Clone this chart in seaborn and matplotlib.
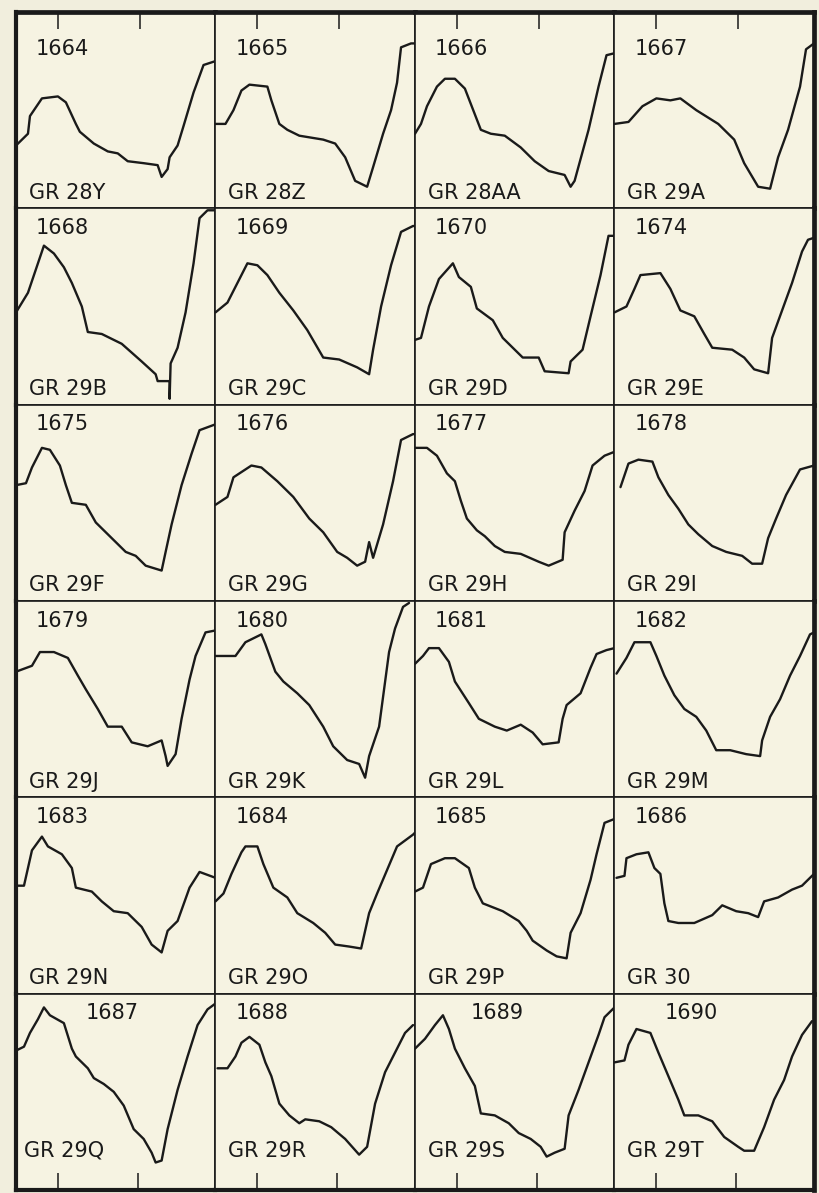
import numpy as np
import pandas as pd
import matplotlib
matplotlib.use('Agg')
import matplotlib.pyplot as plt
import seaborn as sns

# numeros y etiquetas de cada panel (filas de 4)
numeros = [1664, 1665, 1666, 1667,
           1668, 1669, 1670, 1674,
           1675, 1676, 1677, 1678,
           1679, 1680, 1681, 1682,
           1683, 1684, 1685, 1686,
           1687, 1688, 1689, 1690]
etiquetas = ['GR 28Y', 'GR 28Z', 'GR 28AA', 'GR 29A',
             'GR 29B', 'GR 29C', 'GR 29D', 'GR 29E',
             'GR 29F', 'GR 29G', 'GR 29H', 'GR 29I',
             'GR 29J', 'GR 29K', 'GR 29L', 'GR 29M',
             'GR 29N', 'GR 29O', 'GR 29P', 'GR 30',
             'GR 29Q', 'GR 29R', 'GR 29S', 'GR 29T']

# curvas (x y en % del panel)
x_1664 = [0, 6, 7, 13, 21, 25, 30, 32, 39, 46, 51, 56, 64, 71, 73, 76, 77, 81, 84, 89, 94, 100]
y_1664 = [32, 38, 47, 56, 57, 54, 43, 39, 33, 29, 28, 24, 23, 22, 16, 20, 26, 32, 42, 59, 73, 75]
x_1665 = [0, 5, 9, 13, 17, 26, 28, 32, 36, 42, 54, 60, 65, 70, 76, 79, 84, 88, 91, 93, 98, 100]
y_1665 = [43, 43, 50, 60, 63, 62, 55, 43, 40, 37, 35, 33, 26, 14, 11, 21, 38, 50, 64, 82, 84, 84]
x_1666 = [0, 3, 6, 11, 15, 20, 25, 33, 38, 45, 53, 60, 67, 75, 78, 80, 87, 92, 96, 100]
y_1666 = [38, 43, 52, 62, 66, 66, 61, 40, 38, 37, 31, 24, 19, 17, 11, 14, 40, 62, 78, 79]
x_1667 = [0, 7, 14, 21, 28, 33, 41, 52, 60, 65, 72, 78, 82, 87, 93, 96, 100]
y_1667 = [43, 44, 52, 56, 55, 56, 50, 43, 35, 23, 11, 10, 26, 40, 62, 81, 84]
x_1668 = [0, 6, 11, 14, 19, 24, 28, 33, 36, 43, 53, 63, 70, 71, 77, 77, 77.5, 81, 85, 89, 92, 96, 100]
y_1668 = [47, 57, 72, 81, 77, 70, 62, 50, 37, 36, 31, 22, 15.5, 12, 12, 3, 21, 29, 47, 72, 95, 99, 99]
x_1669 = [0, 6, 11, 16, 21, 26, 32, 39, 46, 54, 62, 71, 77, 79, 83, 88, 93, 99, 100]
y_1669 = [47, 52, 62, 72, 71, 66, 57, 48, 38, 24, 23, 19, 15.5, 28, 50, 71, 88, 91, 91]
x_1670 = [0, 3, 7, 12, 19, 22, 28, 31, 39, 44, 47, 54, 62, 65, 77, 78, 84, 88, 93, 97, 100]
y_1670 = [33, 34, 50, 64, 72, 65, 60, 49, 43, 34, 31, 24, 24, 17, 16, 22, 28, 45, 66, 86, 86]
x_1674 = [0, 6, 10, 13, 23, 28, 33, 40, 45, 49, 59, 65, 70, 77, 79, 84, 89, 94, 97, 100]
y_1674 = [47, 50, 59, 66, 67, 59, 48, 45, 36, 29, 28, 24, 18, 16, 34, 48, 62, 78, 84, 85]
x_1675 = [0, 5, 8, 13, 17, 22, 25, 28, 35, 40, 45, 50, 55, 60, 65, 73, 75, 78, 83, 88, 92, 100]
y_1675 = [59, 60, 68, 78, 77, 69, 59, 50, 49, 40, 35, 30, 25, 23, 18, 15.5, 25, 39, 59, 75, 87, 90]
x_1676 = [0, 6, 9, 18, 23, 31, 39, 47, 54, 61, 66, 71, 75, 77, 79, 84, 89, 93, 99, 100]
y_1676 = [49, 53, 63, 69, 68, 61, 53, 42, 35, 25, 22, 18, 20, 30, 22, 39, 61, 82, 85, 85]
x_1677 = [0, 6, 11, 16, 20, 23, 26, 31, 35, 40, 45, 53, 62, 67, 74, 75, 80, 85, 89, 95, 100]
y_1677 = [78, 78, 74, 65, 61, 51, 42, 36, 33, 28, 25, 24, 20, 18, 21, 35, 46, 56, 69, 74, 76]
x_1678 = [3, 7, 12, 19, 22, 27, 32, 37, 42, 49, 56, 64, 69, 74, 77, 81, 86, 93, 100]
y_1678 = [58, 70, 72, 71, 63, 54, 47, 39, 34, 28, 25, 23, 19, 19, 32, 42, 54, 67, 69]
x_1679 = [0, 8, 12, 19, 26, 31, 35, 41, 46, 53, 58, 66, 73, 75, 76, 80, 83, 87, 90, 95, 100]
y_1679 = [64, 67, 74, 74, 71, 62, 55, 45, 36, 36, 28, 26, 29, 21, 16, 22, 40, 60, 72, 84, 85]
x_1680 = [0, 10, 15, 23, 25, 30, 34, 41, 47, 54, 59, 66, 72, 75, 77, 82, 87, 90, 94, 97]
y_1680 = [72, 72, 79, 83, 78, 64, 59, 53, 47, 36, 26, 19, 17, 10, 21, 36, 74, 86, 97, 99]
x_1681 = [0, 4, 7, 12, 17, 20, 27, 32, 40, 46, 53, 59, 64, 72, 74, 76, 83, 88, 91, 96, 100]
y_1681 = [68, 72, 76, 76, 69, 59, 48, 40, 36, 34, 37, 33, 27, 28, 40, 47, 53, 66, 73, 75, 76]
x_1682 = [1, 6, 10, 18, 21, 25, 30, 35, 41, 46, 51, 58, 66, 73, 74, 78, 83, 88, 93, 98, 100]
y_1682 = [63, 71, 79, 79, 72, 62, 52, 45, 41, 34, 24, 24, 22, 21, 29, 41, 50, 62, 72, 83, 84]
x_1683 = [0, 4, 8, 13, 16, 23, 28, 30, 38, 43, 49, 56, 63, 68, 73, 76, 81, 87, 92, 100]
y_1683 = [55, 55, 73, 80, 75, 71, 64, 54, 52, 47, 42, 41, 34, 25, 21, 32, 37, 54, 62, 59]
x_1684 = [0, 4, 8, 13, 15, 21, 24, 29, 36, 41, 49, 55, 60, 67, 73, 77, 81, 86, 91, 99, 100]
y_1684 = [47, 51, 61, 72, 75, 75, 66, 54, 49, 41, 36, 31, 25, 24, 23, 41, 51, 63, 75, 81, 82]
x_1685 = [0, 4, 8, 15, 20, 27, 30, 34, 44, 52, 56, 59, 66, 71, 76, 78, 83, 88, 91, 95, 100]
y_1685 = [52, 54, 66, 69, 69, 64, 54, 46, 42, 37, 32, 27, 22, 19, 18, 31, 41, 58, 71, 87, 89]
x_1686 = [1, 5, 6, 11, 17, 20, 23, 25, 27, 32, 40, 49, 54, 61, 67, 72, 75, 82, 89, 94, 100]
y_1686 = [59, 60, 69, 71, 72, 64, 61, 46, 37, 36, 36, 40, 45, 42, 41, 39, 47, 49, 53, 55, 61]
x_1687 = [0, 4, 7, 11, 14, 17, 24, 28, 30, 36, 39, 44, 49, 54, 59, 64, 68, 70, 73, 76, 81, 86, 91, 96, 100]
y_1687 = [71, 73, 80, 87, 93, 89, 85, 72, 68, 62, 57, 54, 50, 43, 31, 26, 19, 14, 15, 31, 51, 68, 84, 92, 95]
x_1688 = [1, 6, 10, 13, 17, 22, 25, 28, 32, 37, 42, 45, 52, 58, 65, 72, 76, 80, 85, 90, 95, 99]
y_1688 = [62, 62, 68, 75, 78, 74, 65, 58, 44, 38, 34, 36, 35, 32, 26, 18, 22, 44, 60, 70, 80, 84]
x_1689 = [0, 5, 10, 14, 17, 20, 25, 30, 33, 40, 47, 52, 58, 63, 66, 70, 75, 77, 82, 87, 92, 95, 100]
y_1689 = [72, 77, 84, 89, 82, 72, 62, 53, 39, 38, 34, 29, 26, 22, 17, 19, 21, 38, 51, 65, 79, 88, 93]
x_1690 = [0, 5, 7, 11, 18, 22, 27, 32, 35, 42, 49, 55, 62, 65, 70, 75, 80, 85, 89, 94, 99]
y_1690 = [65, 66, 74, 82, 80, 70, 58, 46, 38, 38, 35, 27, 22, 20, 20, 32, 46, 56, 68, 79, 86]

curvas = [(x_1664, y_1664), (x_1665, y_1665), (x_1666, y_1666), (x_1667, y_1667),
          (x_1668, y_1668), (x_1669, y_1669), (x_1670, y_1670), (x_1674, y_1674),
          (x_1675, y_1675), (x_1676, y_1676), (x_1677, y_1677), (x_1678, y_1678),
          (x_1679, y_1679), (x_1680, y_1680), (x_1681, y_1681), (x_1682, y_1682),
          (x_1683, y_1683), (x_1684, y_1684), (x_1685, y_1685), (x_1686, y_1686),
          (x_1687, y_1687), (x_1688, y_1688), (x_1689, y_1689), (x_1690, y_1690)]

# marcas de la escala arriba y abajo
ticks_arriba = [21, 62]
ticks_abajo = [21, 61]

sns.set_style('white')
plt.rcParams['font.family'] = ['DejaVu Sans']

papel = '#f6f3e2'
tinta = '#1a1a1a'

fig, axes = plt.subplots(6, 4, figsize=(8.2, 11.93), dpi=100,
                         gridspec_kw=dict(left=16/820, right=814/820,
                                          top=1-12/1193, bottom=1-1190/1193,
                                          wspace=0, hspace=0))
fig.patch.set_facecolor('#f1eedd')

# posicion x del numero en la ultima fila (cambia)
num_x_especial = {1687: 35, 1689: 28, 1690: 25}

for i, ax in enumerate(axes.flat):
    fila, col = divmod(i, 4)
    xs, ys = curvas[i]
    df = pd.DataFrame({'x': xs, 'y': ys})
    sns.lineplot(data=df, x='x', y='y', ax=ax, sort=False, estimator=None,
                 color=tinta, linewidth=1.7)
    ax.set_xlim(0, 100)
    ax.set_ylim(0, 100)
    ax.set_facecolor(papel)
    ax.set_xlabel('')
    ax.set_ylabel('')
    ax.set_yticks([])

    if fila == 0:
        ax.xaxis.set_ticks_position('top')
        ax.set_xticks(ticks_arriba)
        ax.tick_params(axis='x', direction='in', length=12, width=1.1,
                       color=tinta, labeltop=False, labelbottom=False)
    elif fila == 5:
        ax.xaxis.set_ticks_position('bottom')
        ax.set_xticks(ticks_abajo)
        ax.tick_params(axis='x', direction='in', length=12, width=1.1,
                       color=tinta, labeltop=False, labelbottom=False)
    else:
        ax.set_xticks([])

    for lado, sp in ax.spines.items():
        sp.set_visible(True)
        sp.set_color(tinta)
        sp.set_linewidth(1.2)
    if fila == 0:
        ax.spines['top'].set_linewidth(3.4)
    if fila == 5:
        ax.spines['bottom'].set_linewidth(3.0)
    if col == 0:
        ax.spines['left'].set_linewidth(3.0)
    if col == 3:
        ax.spines['right'].set_linewidth(3.4)

    # textos
    y_num = 81 if fila == 0 else 90
    y_gr = 20 if fila == 5 else 8
    x_num = num_x_especial.get(numeros[i], 10)
    x_gr = 4 if i == 20 else 6.5
    ax.text(x_num, y_num, str(numeros[i]), fontsize=15, color=tinta,
            ha='left', va='center')
    ax.text(x_gr, y_gr, etiquetas[i], fontsize=15, color=tinta,
            ha='left', va='center')

plt.savefig('out.png', dpi=100, facecolor=fig.get_facecolor())
